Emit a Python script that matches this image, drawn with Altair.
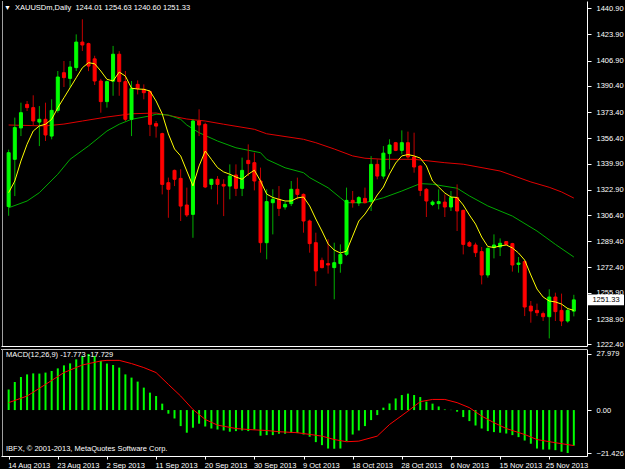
import json
import altair as alt
import pandas as pd

FONT = "Liberation Sans"
FS = 7.5
W = 586
H_PRICE = 345
H_MACD = 107

symbol = "XAUUSDm,Daily"

opens = [1312.0, 1342.7, 1363.1, 1378.4, 1376.3, 1366.9, 1368.7, 1357.8, 1374.5, 1399.0,
         1395.3, 1402.3, 1418.9, 1417.9, 1408.0, 1393.6, 1380.2, 1393.5, 1411.0, 1393.2,
         1368.7, 1391.4, 1388.2, 1386.7, 1365.9, 1359.4, 1327.5, 1335.5, 1330.3, 1313.0,
         1306.9, 1367.6, 1365.4, 1326.4, 1329.7, 1326.4, 1325.3, 1332.5, 1323.8, 1342.0,
         1340.5, 1328.6, 1288.5, 1314.5, 1316.7, 1311.7, 1313.9, 1323.2, 1319.9, 1302.6,
         1288.5, 1277.0, 1274.9, 1272.3, 1274.9, 1280.9, 1316.0, 1314.3, 1317.3, 1315.2,
         1339.4, 1331.8, 1346.4, 1353.5, 1348.5, 1353.5, 1344.2, 1338.3, 1323.2, 1313.4,
         1313.9, 1314.9, 1311.7, 1317.8, 1309.5, 1288.5, 1287.0, 1282.7, 1267.5, 1285.3,
         1285.7, 1289.2, 1287.9, 1274.4, 1276.2, 1247.3, 1244.5, 1242.4, 1240.4, 1253.2,
         1244.5, 1237.6, 1244.01]
highs = [1349.0, 1369.8, 1379.5, 1380.6, 1384.3, 1377.3, 1379.5, 1381.7, 1400.1, 1406.6,
         1406.6, 1423.9, 1433.7, 1418.5, 1410.0, 1395.0, 1394.0, 1416.4, 1413.0, 1400.1,
         1393.6, 1394.0, 1391.4, 1387.5, 1367.6, 1360.0, 1330.8, 1336.0, 1336.2, 1324.3,
         1368.7, 1375.2, 1366.5, 1330.0, 1331.8, 1329.7, 1339.4, 1339.4, 1343.8, 1352.4,
         1347.0, 1337.3, 1323.2, 1323.2, 1325.3, 1315.0, 1328.6, 1330.8, 1320.5, 1303.5,
         1295.0, 1278.8, 1290.7, 1288.5, 1287.4, 1324.3, 1322.1, 1318.8, 1324.3, 1344.8,
         1342.7, 1351.3, 1355.7, 1354.0, 1361.5, 1360.7, 1360.0, 1339.0, 1324.0, 1316.0,
         1323.2, 1319.9, 1322.1, 1326.4, 1310.0, 1289.6, 1288.5, 1285.7, 1285.5, 1293.9,
         1291.3, 1289.6, 1288.4, 1279.2, 1277.0, 1250.6, 1248.9, 1243.7, 1258.2, 1256.0,
         1255.4, 1246.3, 1254.63]
lows = [1306.0, 1318.8, 1357.8, 1374.1, 1364.3, 1351.3, 1354.6, 1355.7, 1373.0, 1389.7,
        1389.3, 1400.1, 1413.1, 1400.0, 1391.0, 1373.0, 1376.3, 1384.0, 1384.0, 1367.6,
        1357.8, 1384.9, 1381.7, 1357.8, 1356.8, 1319.9, 1304.7, 1325.3, 1302.6, 1305.2,
        1291.7, 1357.8, 1324.0, 1323.2, 1313.4, 1305.8, 1316.7, 1318.8, 1318.8, 1331.8,
        1322.5, 1282.0, 1277.7, 1293.9, 1305.8, 1310.0, 1312.3, 1316.7, 1295.0, 1282.0,
        1260.3, 1271.8, 1268.4, 1251.7, 1269.0, 1279.8, 1311.3, 1312.3, 1314.0, 1309.1,
        1329.7, 1330.0, 1336.2, 1348.0, 1345.9, 1343.0, 1334.0, 1318.8, 1305.2, 1312.3,
        1310.2, 1305.2, 1309.1, 1296.1, 1280.9, 1285.7, 1279.2, 1261.4, 1265.8, 1278.3,
        1279.8, 1287.0, 1269.7, 1269.0, 1240.8, 1236.5, 1240.8, 1237.6, 1226.3, 1237.6,
        1234.3, 1236.5, 1240.60]
closes = [1347.0, 1363.3, 1373.0, 1376.3, 1367.6, 1368.7, 1358.5, 1374.5, 1396.2, 1395.8,
          1402.7, 1418.9, 1417.0, 1403.3, 1393.6, 1380.2, 1393.2, 1411.0, 1393.2, 1368.7,
          1388.8, 1388.8, 1386.0, 1365.4, 1364.3, 1326.4, 1323.2, 1329.7, 1312.3, 1306.5,
          1367.6, 1365.0, 1324.7, 1329.7, 1326.4, 1325.3, 1331.8, 1323.8, 1335.5, 1339.9,
          1328.6, 1288.5, 1315.2, 1316.7, 1310.8, 1313.4, 1323.2, 1319.9, 1302.6, 1287.9,
          1270.1, 1272.3, 1274.0, 1275.5, 1280.9, 1316.0, 1314.5, 1317.8, 1314.5, 1339.4,
          1331.8, 1346.7, 1352.0, 1348.5, 1353.5, 1344.2, 1337.7, 1322.5, 1315.6, 1314.9,
          1315.2, 1311.7, 1317.8, 1309.1, 1287.4, 1286.3, 1282.0, 1267.5, 1284.8, 1287.0,
          1288.1, 1287.4, 1274.0, 1275.3, 1246.7, 1244.1, 1243.0, 1240.4, 1253.2, 1243.7,
          1237.6, 1244.5, 1251.33]

# fast (yellow) moving average, one value per bar
fast_ma = [1321.0, 1328.6, 1341.6, 1352.5, 1361.1, 1364.4, 1365.5, 1368.7, 1376.2, 1382.7,
           1389.2, 1395.7, 1402.2, 1405.5, 1404.8, 1400.1, 1394.7, 1393.6, 1399.4, 1396.8,
           1388.9, 1388.4, 1388.2, 1387.1, 1380.6, 1372.2, 1359.2, 1349.4, 1344.9, 1335.1,
           1325.4, 1338.4, 1348.1, 1342.7, 1337.3, 1334.5, 1333.0, 1331.2, 1329.7, 1333.0,
           1335.6, 1328.6, 1320.1, 1317.9, 1316.7, 1315.6, 1315.6, 1317.6, 1318.2, 1312.4,
           1303.9, 1296.1, 1287.7, 1283.7, 1281.8, 1283.0, 1292.8, 1302.6, 1307.1, 1313.0,
           1319.5, 1324.7, 1333.2, 1340.3, 1344.9, 1345.8, 1344.9, 1343.5, 1338.4, 1328.6,
           1324.7, 1320.8, 1318.2, 1317.9, 1313.0, 1306.5, 1300.6, 1292.2, 1286.0, 1285.4,
           1286.4, 1287.0, 1285.1, 1281.8, 1277.2, 1267.5, 1258.4, 1253.2, 1250.6, 1250.0,
           1248.6, 1245.7, 1244.5]

# middle (green) moving average, read at these bars
mid_idx = [0, 3, 5, 8, 10, 13, 16, 18, 20, 23, 24, 26, 28, 29, 31, 34, 37, 41, 42, 45,
           48, 49, 52, 54, 55, 58, 61, 64, 67, 69, 73, 75, 78, 82, 86, 89, 92]
mid_ma = [1311.2, 1315.6, 1321.0, 1333.0, 1342.7, 1351.4, 1361.1, 1365.5, 1368.7, 1370.9,
          1372.0, 1371.5, 1368.7, 1365.0, 1360.0, 1354.6, 1350.2, 1347.0, 1342.7, 1337.2,
          1334.0, 1330.8, 1324.2, 1317.7, 1314.5, 1314.5, 1317.7, 1322.1, 1326.9, 1326.5,
          1323.9, 1318.9, 1312.4, 1305.8, 1296.1, 1287.4, 1279.2]

# slow (red) moving average, read at these bars
slow_idx = [0, 6, 9, 12, 16, 20, 24, 29, 32, 35, 40, 42, 48, 50, 53, 56, 58, 61, 66, 71,
            74, 80, 85, 88, 90, 92]
slow_ma = [1365.0, 1364.4, 1365.6, 1367.6, 1370.2, 1372.3, 1372.8, 1368.9, 1367.6, 1365.5,
           1362.2, 1359.3, 1355.7, 1353.5, 1349.4, 1344.9, 1343.4, 1342.7, 1342.7, 1340.5,
           1339.5, 1335.1, 1328.0, 1324.5, 1321.5, 1317.5]

macd_hist = [10.3, 14.0, 16.5, 17.8, 18.3, 18.2, 18.7, 19.5, 20.8, 22.3,
             23.3, 25.3, 27.0, 27.979, 27.0, 24.5, 23.2, 22.5, 21.2, 17.8,
             16.2, 14.2, 11.2, 8.7, 7.0, 3.2, -1.8, -4.2, -8.0, -11.3,
             -8.8, -6.8, -8.2, -9.2, -9.7, -10.2, -10.8, -10.5, -10.2, -10.5,
             -9.7, -12.8, -12.5, -12.5, -11.8, -11.8, -11.3, -11.5, -12.2, -13.3,
             -16.0, -17.5, -19.2, -19.3, -19.2, -15.5, -12.2, -10.2, -8.0, -5.0,
             -2.5, 1.2, 3.3, 5.8, 7.5, 8.2, 7.5, 6.5, 4.2, 3.2,
             1.8, 0.3, 0.1, -0.8, -3.5, -5.5, -7.7, -9.2, -10.5, -11.0,
             -11.3, -11.7, -12.5, -13.5, -15.2, -16.8, -19.2, -19.7, -19.7, -20.0,
             -20.8, -21.426, -17.773]

signal_idx = [0, 3, 6, 9, 12, 15, 16, 18, 20, 22, 24, 26, 28, 30, 32, 34, 37, 39, 42, 44,
              47, 51, 53, 55, 57, 60, 62, 65, 67, 69, 71, 73, 75, 77, 79, 81, 84, 86, 89, 92]
signal_vals = [3.7, 7.0, 12.8, 18.7, 22.5, 24.5, 24.8, 24.8, 23.2, 21.2,
               18.7, 12.8, 7.0, 0.3, -4.7, -7.5, -9.2, -9.7, -10.2, -10.8,
               -11.3, -13.0, -14.7, -15.8, -15.5, -13.0, -7.2, -0.5, 4.2, 5.3,
               5.3, 3.7, 1.2, -3.0, -6.3, -9.2, -12.2, -14.7, -16.3, -17.729]

price_ticks = [1440.90, 1423.90, 1406.90, 1390.40, 1373.40, 1356.40, 1339.90,
               1322.90, 1306.40, 1289.40, 1272.40, 1255.90, 1238.90, 1222.40]
macd_ticks = [27.979, 0.0, -21.426]
date_labels = ["14 Aug 2013", "23 Aug 2013", "2 Sep 2013", "11 Sep 2013", "20 Sep 2013",
               "30 Sep 2013", "9 Oct 2013", "18 Oct 2013", "28 Oct 2013", "6 Nov 2013",
               "15 Nov 2013", "25 Nov 2013"]
date_idx = [0, 8, 16, 24, 32, 40, 48, 56, 64, 72, 80, 88]

# ---------------------------------------------------------------- tables
n = len(opens)
candles = pd.DataFrame({"i": list(range(n)), "open": opens, "high": highs,
                        "low": lows, "close": closes})
candles["dir"] = ["up" if c >= o else "down" for o, c in zip(opens, closes)]
fast_df = pd.DataFrame({"i": list(range(n)), "v": fast_ma})
mid_df = pd.DataFrame({"i": mid_idx, "v": mid_ma})
slow_df = pd.DataFrame({"i": slow_idx, "v": slow_ma})
hist_df = pd.DataFrame({"i": list(range(n)), "h": macd_hist, "zero": [0.0] * n})
sig_df = pd.DataFrame({"i": signal_idx, "v": signal_vals})
last_df = pd.DataFrame({"close": [closes[-1]], "lab": [f"{closes[-1]:.2f}"]})
title_df = pd.DataFrame({"t": [f"{symbol}\u00a0\u00a0{opens[-1]:.2f} {highs[-1]:.2f} "
                               f"{lows[-1]:.2f} {closes[-1]:.2f}"]})
tri_df = pd.DataFrame({"t": ["\u25bc"]})
macd_title_df = pd.DataFrame({"t": [f"MACD(12,26,9) {macd_hist[-1]:.3f} {signal_vals[-1]:.3f}"]})
copy_df = pd.DataFrame({"t": ["IBFX, \u00a9 2001-2013, MetaQuotes Software Corp."]})
one = pd.DataFrame({"k": [0]})

# ---------------------------------------------------------------- scales
xs = alt.Scale(domain=[-0.432, 93.33], nice=False, zero=False)
ys = alt.Scale(domain=[1221.35, 1445.6], nice=False, zero=False)
ms = alt.Scale(domain=[-22.923, 30.474], nice=False, zero=False)

price_axis = alt.Axis(orient="right", values=price_ticks, format=".2f", title=None,
                      tickSize=4, labelPadding=5, labelFlush=False, labelOverlap=False,
                      grid=False)
macd_axis = alt.Axis(orient="right", values=macd_ticks, title=None, tickSize=4,
                     labelPadding=5, labelFlush=False, labelOverlap=False, grid=False,
                     labelExpr="datum.value == 0 ? '0.00' : format(datum.value, '.3f')")
x_top_axis = alt.Axis(labels=False, ticks=False, title=None, grid=False)
label_expr = f"{json.dumps(date_labels)}[indexof({json.dumps(date_idx)}, datum.value)]"
x_bot_axis = alt.Axis(values=date_idx, labelExpr=label_expr, title=None, grid=False,
                      tickSize=3, labelPadding=2, labelAlign="left", labelBaseline="top",
                      labelFlush=False, labelOverlap=False,
                      labelOffset={"condition": {"test": "datum.value >= 88", "value": -4},
                                   "value": -1})

Xp = alt.X("i:Q", scale=xs, axis=x_top_axis)
Xm = alt.X("i:Q", scale=xs, axis=x_bot_axis)

txt = dict(font=FONT, fontSize=FS, color="white", align="left", baseline="middle")

# ---------------------------------------------------------------- price panel
wicks = alt.Chart(candles).mark_rule(strokeWidth=1).encode(
    x=Xp,
    y=alt.Y("low:Q", scale=ys, axis=price_axis),
    y2="high:Q",
    color=alt.Color("dir:N", scale=alt.Scale(domain=["up", "down"],
                                             range=["#00B000", "#C00000"]), legend=None),
)
bodies = alt.Chart(candles).mark_bar(width=3, strokeWidth=1).encode(
    x=Xp,
    y=alt.Y("open:Q", scale=ys, axis=price_axis),
    y2="close:Q",
    fill=alt.Fill("dir:N", scale=alt.Scale(domain=["up", "down"],
                                           range=["#00FF00", "#FF0000"]), legend=None),
    stroke=alt.Stroke("dir:N", scale=alt.Scale(domain=["up", "down"],
                                               range=["#00FF00", "#FF0000"]), legend=None),
)
slow_line = alt.Chart(slow_df).mark_line(color="#E00000", strokeWidth=1).encode(
    x=Xp, y=alt.Y("v:Q", scale=ys, axis=price_axis))
mid_line = alt.Chart(mid_df).mark_line(color="#00AA00", strokeWidth=1).encode(
    x=Xp, y=alt.Y("v:Q", scale=ys, axis=price_axis))
fast_line = alt.Chart(fast_df).mark_line(color="#FFFF00", strokeWidth=1).encode(
    x=Xp, y=alt.Y("v:Q", scale=ys, axis=price_axis))

left_rule = alt.Chart(one).mark_rule(color="#A0A0A0", strokeWidth=1).encode(
    x=alt.value(1.5), y=alt.value(0), y2=alt.value(H_PRICE))
title_txt = alt.Chart(title_df).mark_text(**txt).encode(
    text="t:N", x=alt.value(14), y=alt.value(7))
tri_txt = alt.Chart(tri_df).mark_text(font=FONT, fontSize=7, color="white",
                                      align="left", baseline="middle").encode(
    text="t:N", x=alt.value(3), y=alt.value(7))
box = alt.Chart(last_df).mark_point(
    shape="M-1,-0.3H1V0.3H-1Z", size=1296, filled=True, color="white", opacity=1).encode(
    x=alt.value(605), y=alt.Y("close:Q", scale=ys, axis=price_axis))
box_txt = alt.Chart(last_df).mark_text(font=FONT, fontSize=FS, color="black",
                                       align="center", baseline="middle").encode(
    text="lab:N", x=alt.value(605), y=alt.Y("close:Q", scale=ys, axis=price_axis))

price = alt.layer(slow_line, mid_line, wicks, bodies, fast_line, left_rule,
                  title_txt, tri_txt, box, box_txt).properties(width=W, height=H_PRICE)

# ---------------------------------------------------------------- MACD panel
hist = alt.Chart(hist_df).mark_bar(width=2, color="#00FF00").encode(
    x=Xm, y=alt.Y("h:Q", scale=ms, axis=macd_axis), y2="zero:Q")
sig = alt.Chart(sig_df).mark_line(color="#FF0000", strokeWidth=1).encode(
    x=Xm, y=alt.Y("v:Q", scale=ms, axis=macd_axis))
top_rule = alt.Chart(one).mark_rule(color="#C0C0C0", strokeWidth=1).encode(
    x=alt.value(0), x2=alt.value(W), y=alt.value(0.5))
left_rule2 = alt.Chart(one).mark_rule(color="#A0A0A0", strokeWidth=1).encode(
    x=alt.value(1.5), y=alt.value(0), y2=alt.value(H_MACD))
macd_txt = alt.Chart(macd_title_df).mark_text(**txt).encode(
    text="t:N", x=alt.value(5), y=alt.value(6))
copy_txt = alt.Chart(copy_df).mark_text(**txt).encode(
    text="t:N", x=alt.value(5), y=alt.value(100))

macd = alt.layer(hist, sig, top_rule, left_rule2, macd_txt, copy_txt).properties(
    width=W, height=H_MACD)

chart = alt.vconcat(price, macd, spacing=3, bounds="flush").properties(
    padding=0, background="black"
).configure_view(stroke="transparent").configure_axis(
    labelFont=FONT, labelFontSize=FS, labelColor="white", tickColor="white",
    domainColor="white", domainWidth=1, tickWidth=1
)

chart.save("out.html", embed_options={"renderer": "svg", "actions": False})
